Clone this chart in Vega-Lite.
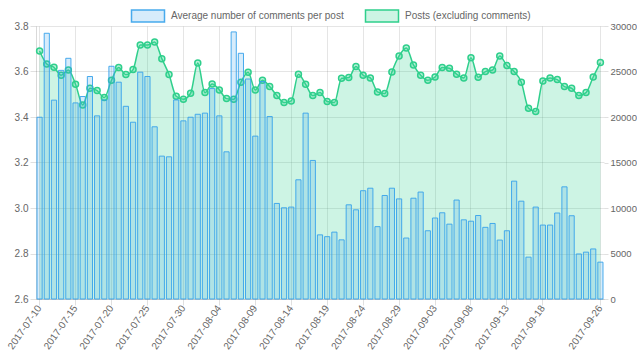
{
  "$schema": "https://vega.github.io/schema/vega-lite/v6.json",
  "width": 568,
  "height": 273,
  "padding": {"left": 5, "top": 9, "right": 0, "bottom": 5},
  "background": "white",
  "config": {
    "view": {"stroke": null},
    "font": "Liberation Sans",
    "axis": {"labelColor": "#666666", "labelFontSize": 10, "labelFont": "Liberation Sans", "tickColor": "rgba(0,0,0,0.12)", "gridColor": "rgba(0,0,0,0.1)", "domainColor": "rgba(0,0,0,0.15)", "titleColor": "#666666"},
    "legend": {"labelColor": "#666666", "labelFontSize": 10, "labelFont": "Liberation Sans", "labelLimit": 400}
  },
  "data": {"values": [
    {"date": "2017-07-10", "avg": 3.399, "posts": 27260},
    {"date": "2017-07-11", "avg": 3.768, "posts": 25830},
    {"date": "2017-07-12", "avg": 3.474, "posts": 25460},
    {"date": "2017-07-13", "avg": 3.605, "posts": 24590},
    {"date": "2017-07-14", "avg": 3.658, "posts": 25170},
    {"date": "2017-07-15", "avg": 3.462, "posts": 23600},
    {"date": "2017-07-16", "avg": 3.490, "posts": 21330},
    {"date": "2017-07-17", "avg": 3.578, "posts": 23160},
    {"date": "2017-07-18", "avg": 3.405, "posts": 22900},
    {"date": "2017-07-19", "avg": 3.475, "posts": 22130},
    {"date": "2017-07-20", "avg": 3.623, "posts": 24040},
    {"date": "2017-07-21", "avg": 3.553, "posts": 25430},
    {"date": "2017-07-22", "avg": 3.447, "posts": 24660},
    {"date": "2017-07-23", "avg": 3.377, "posts": 25210},
    {"date": "2017-07-24", "avg": 3.597, "posts": 27910},
    {"date": "2017-07-25", "avg": 3.578, "posts": 27910},
    {"date": "2017-07-26", "avg": 3.357, "posts": 28240},
    {"date": "2017-07-27", "avg": 3.228, "posts": 26410},
    {"date": "2017-07-28", "avg": 3.225, "posts": 24660},
    {"date": "2017-07-29", "avg": 3.475, "posts": 22280},
    {"date": "2017-07-30", "avg": 3.383, "posts": 21950},
    {"date": "2017-07-31", "avg": 3.399, "posts": 22610},
    {"date": "2017-08-01", "avg": 3.412, "posts": 25940},
    {"date": "2017-08-02", "avg": 3.417, "posts": 22680},
    {"date": "2017-08-03", "avg": 3.525, "posts": 23630},
    {"date": "2017-08-04", "avg": 3.405, "posts": 22980},
    {"date": "2017-08-05", "avg": 3.247, "posts": 22020},
    {"date": "2017-08-06", "avg": 3.774, "posts": 21950},
    {"date": "2017-08-07", "avg": 3.680, "posts": 23820},
    {"date": "2017-08-08", "avg": 3.567, "posts": 24910},
    {"date": "2017-08-09", "avg": 3.316, "posts": 22980},
    {"date": "2017-08-10", "avg": 3.556, "posts": 24040},
    {"date": "2017-08-11", "avg": 3.402, "posts": 23340},
    {"date": "2017-08-12", "avg": 3.020, "posts": 22350},
    {"date": "2017-08-13", "avg": 3.001, "posts": 21590},
    {"date": "2017-08-14", "avg": 3.004, "posts": 21770},
    {"date": "2017-08-15", "avg": 3.124, "posts": 24700},
    {"date": "2017-08-16", "avg": 3.417, "posts": 23600},
    {"date": "2017-08-17", "avg": 3.209, "posts": 22350},
    {"date": "2017-08-18", "avg": 2.882, "posts": 22680},
    {"date": "2017-08-19", "avg": 2.874, "posts": 21700},
    {"date": "2017-08-20", "avg": 2.894, "posts": 21590},
    {"date": "2017-08-21", "avg": 2.860, "posts": 24260},
    {"date": "2017-08-22", "avg": 3.014, "posts": 24330},
    {"date": "2017-08-23", "avg": 2.992, "posts": 25540},
    {"date": "2017-08-24", "avg": 3.076, "posts": 24590},
    {"date": "2017-08-25", "avg": 3.087, "posts": 24290},
    {"date": "2017-08-26", "avg": 2.918, "posts": 22760},
    {"date": "2017-08-27", "avg": 3.055, "posts": 22570},
    {"date": "2017-08-28", "avg": 3.087, "posts": 24950},
    {"date": "2017-08-29", "avg": 3.040, "posts": 26710},
    {"date": "2017-08-30", "avg": 2.868, "posts": 27590},
    {"date": "2017-08-31", "avg": 3.043, "posts": 25720},
    {"date": "2017-09-01", "avg": 3.070, "posts": 24590},
    {"date": "2017-09-02", "avg": 2.900, "posts": 24040},
    {"date": "2017-09-03", "avg": 2.956, "posts": 24400},
    {"date": "2017-09-04", "avg": 2.979, "posts": 25430},
    {"date": "2017-09-05", "avg": 2.929, "posts": 25350},
    {"date": "2017-09-06", "avg": 3.035, "posts": 24700},
    {"date": "2017-09-07", "avg": 2.948, "posts": 24290},
    {"date": "2017-09-08", "avg": 2.942, "posts": 26520},
    {"date": "2017-09-09", "avg": 2.967, "posts": 24370},
    {"date": "2017-09-10", "avg": 2.915, "posts": 24990},
    {"date": "2017-09-11", "avg": 2.932, "posts": 25170},
    {"date": "2017-09-12", "avg": 2.859, "posts": 26710},
    {"date": "2017-09-13", "avg": 2.900, "posts": 25650},
    {"date": "2017-09-14", "avg": 3.118, "posts": 24990},
    {"date": "2017-09-15", "avg": 3.030, "posts": 23820},
    {"date": "2017-09-16", "avg": 2.784, "posts": 20960},
    {"date": "2017-09-17", "avg": 3.004, "posts": 20600},
    {"date": "2017-09-18", "avg": 2.925, "posts": 23960},
    {"date": "2017-09-19", "avg": 2.925, "posts": 24290},
    {"date": "2017-09-20", "avg": 2.978, "posts": 24110},
    {"date": "2017-09-21", "avg": 3.093, "posts": 23340},
    {"date": "2017-09-22", "avg": 2.966, "posts": 23160},
    {"date": "2017-09-23", "avg": 2.798, "posts": 22350},
    {"date": "2017-09-24", "avg": 2.806, "posts": 22680},
    {"date": "2017-09-25", "avg": 2.820, "posts": 24400},
    {"date": "2017-09-26", "avg": 2.762, "posts": 25980}
  ]},
  "encoding": {
    "x": {
      "field": "date", "type": "ordinal", "sort": null,
      "scale": {"paddingInner": 0.28, "paddingOuter": 0.14},
      "axis": {
        "title": null, "labelAngle": -55, "grid": true, "tickSize": 6, "labelPadding": 1,
        "values": ["2017-07-10","2017-07-15","2017-07-20","2017-07-25","2017-07-30","2017-08-04","2017-08-09","2017-08-14","2017-08-19","2017-08-24","2017-08-29","2017-09-03","2017-09-08","2017-09-13","2017-09-18","2017-09-26"]
      }
    }
  },
  "layer": [
    {
      "layer": [
        {
          "mark": {"type": "area", "interpolate": "monotone"},
          "encoding": {
            "y": {"field": "posts", "type": "quantitative", "scale": {"domain": [0, 30000]},
                  "axis": {"orient": "right", "title": null, "values": [0,5000,10000,15000,20000,25000,30000], "format": "d", "grid": false, "tickSize": 4, "labelPadding": 2, "domain": false, "labelFontSize": 9.5}},
            "fill": {"datum": "Posts (excluding comments)", "type": "nominal",
                     "scale": {"domain": ["Average number of comments per post", "Posts (excluding comments)"], "range": ["rgba(54,162,235,0.2)", "rgba(60,214,150,0.26)"]},
                     "legend": {"title": null, "orient": "none", "direction": "horizontal", "legendX": 105, "legendY": -17,
                                "symbolType": "M-2.75,-1H2.75V1H-2.75Z", "symbolSize": 144, "symbolStrokeWidth": 1.5, "labelOffset": 16, "columnPadding": 18}}
          }
        },
        {
          "mark": {"type": "line", "interpolate": "monotone", "strokeWidth": 1.5},
          "encoding": {
            "y": {"field": "posts", "type": "quantitative"},
            "stroke": {"datum": "Posts (excluding comments)", "type": "nominal",
                       "scale": {"domain": ["Average number of comments per post", "Posts (excluding comments)"], "range": ["rgba(54,162,235,0.9)", "#2fcf8c"]},
                       "legend": {"title": null, "orient": "none", "direction": "horizontal", "legendX": 105, "legendY": -17,
                                  "symbolType": "M-2.75,-1H2.75V1H-2.75Z", "symbolSize": 144, "symbolStrokeWidth": 1.5, "labelOffset": 16, "columnPadding": 18}}
          }
        },
        {
          "mark": {"type": "point", "filled": true, "size": 36, "fill": "rgba(60,214,150,0.35)", "stroke": "#2fcf8c", "strokeWidth": 1.5, "opacity": 1},
          "encoding": {"y": {"field": "posts", "type": "quantitative"}}
        }
      ]
    },
    {
      "mark": {"type": "bar", "strokeWidth": 1},
      "encoding": {
        "y": {"field": "avg", "type": "quantitative", "scale": {"domain": [2.6, 3.8], "zero": false, "nice": false},
              "axis": {"orient": "left", "title": null, "values": [2.6,2.8,3.0,3.2,3.4,3.6,3.8], "format": ".1f", "grid": true, "tickSize": 6, "labelPadding": 2}},
        "y2": {"datum": 2.6},
        "fill": {"datum": "Average number of comments per post", "type": "nominal"},
        "stroke": {"datum": "Average number of comments per post", "type": "nominal"}
      }
    }
  ],
  "resolve": {"scale": {"y": "independent"}}
}
